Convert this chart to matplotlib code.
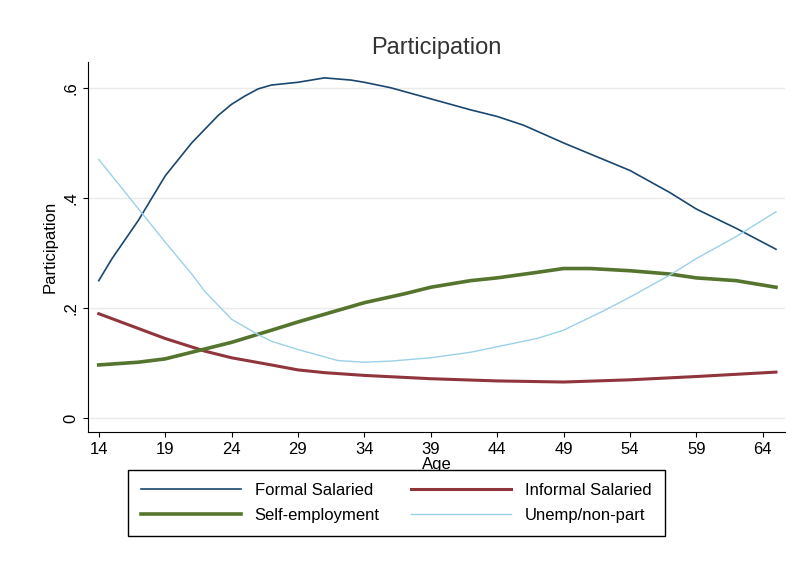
import matplotlib.pyplot as plt

plt.rcParams["font.family"] = ["Liberation Sans", "DejaVu Sans"]

age_formal = [14, 15, 17, 19, 21, 23, 24, 25, 26, 27, 29, 31, 33, 34, 36, 39, 42, 44, 46, 49, 52, 54, 57, 59, 62, 65]
formal = [0.25, 0.29, 0.36, 0.44, 0.50, 0.55, 0.57, 0.585, 0.598, 0.605, 0.61, 0.618, 0.614, 0.61, 0.60, 0.58, 0.56, 0.548, 0.532, 0.50, 0.47, 0.45, 0.41, 0.38, 0.345, 0.307]

age_informal = [14, 16, 19, 22, 24, 27, 29, 31, 34, 39, 44, 49, 54, 59, 65]
informal = [0.19, 0.172, 0.145, 0.122, 0.11, 0.097, 0.088, 0.083, 0.078, 0.072, 0.068, 0.066, 0.07, 0.076, 0.084]

age_self = [14, 17, 19, 21, 24, 27, 29, 32, 34, 37, 39, 42, 44, 47, 49, 51, 54, 57, 59, 62, 65]
self_emp = [0.097, 0.102, 0.108, 0.12, 0.138, 0.16, 0.175, 0.196, 0.21, 0.226, 0.238, 0.25, 0.255, 0.265, 0.272, 0.272, 0.268, 0.262, 0.255, 0.25, 0.238]

age_unemp = [14, 16, 17, 19, 21, 22, 24, 26, 27, 29, 32, 34, 36, 39, 42, 44, 47, 49, 52, 54, 57, 59, 62, 65]
unemp = [0.47, 0.41, 0.38, 0.32, 0.262, 0.23, 0.18, 0.152, 0.14, 0.125, 0.105, 0.102, 0.104, 0.11, 0.12, 0.13, 0.145, 0.16, 0.195, 0.22, 0.26, 0.29, 0.33, 0.375]

fig = plt.figure(figsize=(7.94, 5.84), dpi=100)
ax = fig.add_axes([0.111, 0.26, 0.878, 0.634])

l1, = ax.plot(age_formal, formal, color="#1a476f", lw=1.2)
l2, = ax.plot(age_informal, informal, color="#90353b", lw=2.2)
l3, = ax.plot(age_self, self_emp, color="#55752f", lw=2.6)
l4, = ax.plot(age_unemp, unemp, color="#9bd1e8", lw=1.0)

ax.set_xlim(13.2, 65.7)
ax.set_ylim(-0.025, 0.647)
ax.set_xticks(range(14, 65, 5))
ax.set_yticks([0, 0.2, 0.4, 0.6])
ax.set_yticklabels(["0", ".2", ".4", ".6"], rotation=90, va="center")
ax.tick_params(labelsize=12)
ax.grid(axis="y", color="#eaeaea", lw=1)
ax.set_axisbelow(True)
for s in ["top", "right"]:
    ax.spines[s].set_visible(False)

ax.set_title("Participation", fontsize=17, color="#333333")
ax.set_ylabel("Participation", fontsize=12)
ax.set_xlabel("Age", fontsize=12, labelpad=0)

# column-major fill: col1 = Formal, Self; col2 = Informal, Unemp
fig.legend([l1, l3, l2, l4],
           ["Formal Salaried", "Self-employment", "Informal Salaried", "Unemp/non-part"],
           loc="upper left", bbox_to_anchor=(0.161, 0.196, 0.676, 0.0), mode="expand",
           ncol=2, fontsize=12, frameon=True, fancybox=False, edgecolor="black",
           framealpha=1, handlelength=6, borderaxespad=0, labelspacing=0.6,
           borderpad=0.8)

fig.savefig("out.png", dpi=100)
